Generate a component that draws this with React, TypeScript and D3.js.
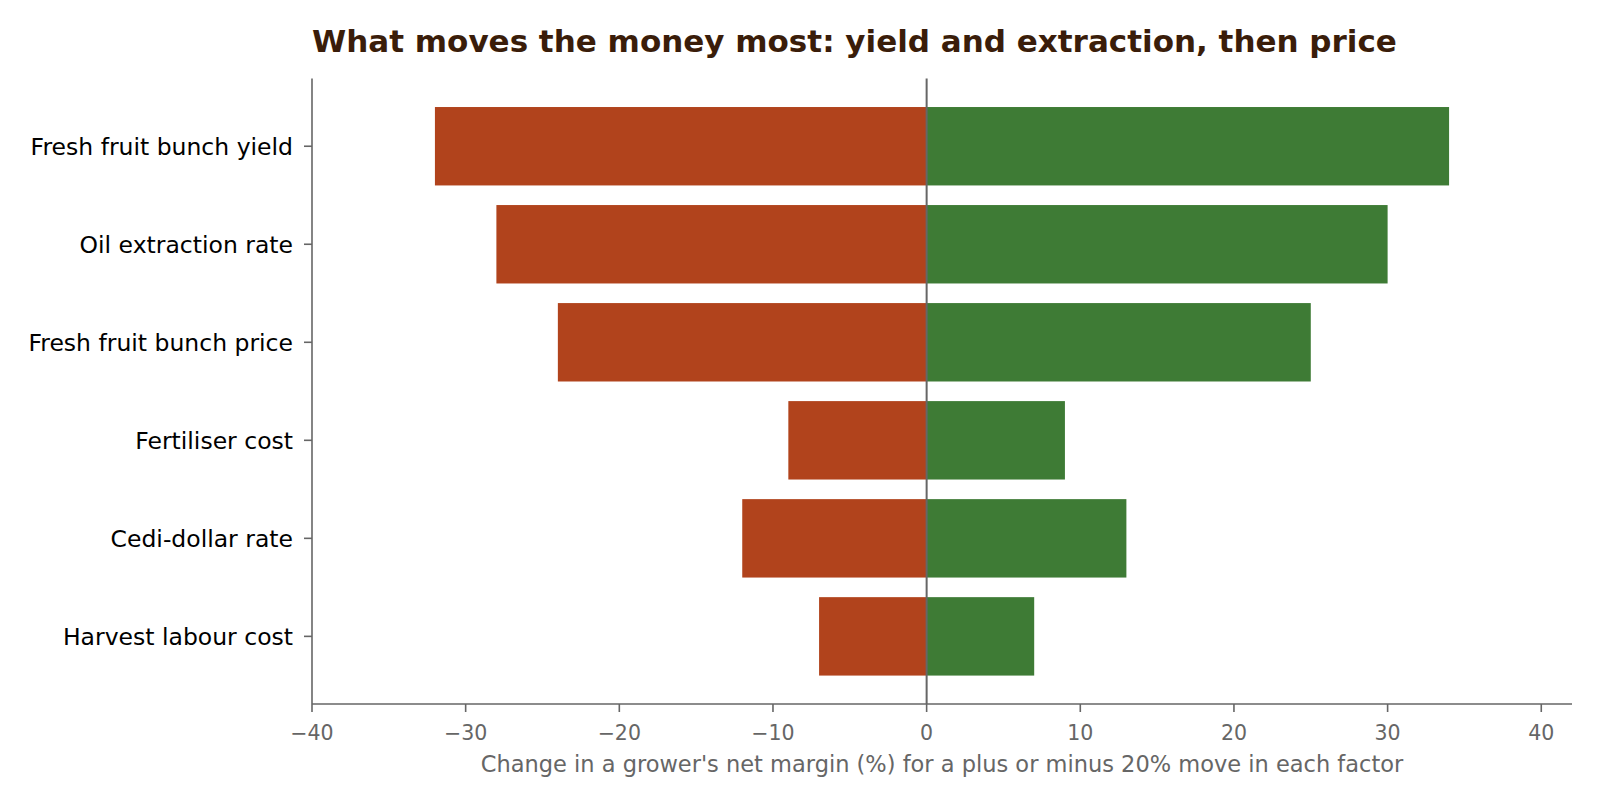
import React from "react";
import * as d3 from "d3";

const categories = [
  "Fresh fruit bunch yield",
  "Oil extraction rate",
  "Fresh fruit bunch price",
  "Fertiliser cost",
  "Cedi-dollar rate",
  "Harvest labour cost",
];
const downside = [-32, -28, -24, -9, -12, -7];
const upside = [34, 30, 25, 9, 13, 7];
const xTicks = [-40, -30, -20, -10, 0, 10, 20, 30, 40];

const W = 1600;
const H = 804;
const LEFT = 312;
const RIGHT = 1572;
const TOP = 78.6;
const BOTTOM = 704;
const FONT = "'DejaVu Sans', sans-serif";
const AXIS = "#666666";
const RED = "#b1431c";
const GREEN = "#3e7b35";

export default function App() {
  const x = d3.scaleLinear().domain([-40, 42]).range([LEFT, RIGHT]);
  const y = d3
    .scaleBand<string>()
    .domain(categories)
    .range([TOP, BOTTOM])
    .paddingInner(0.2)
    .paddingOuter(0.29);
  const bw = y.bandwidth();

  return (
    <svg
      width={W}
      height={H}
      style={{ position: "absolute", left: 0, top: 0, background: "#fff" }}
      fontFamily={FONT}
    >
      <rect x={0} y={0} width={W} height={H} fill="#fff" />
      <text x={LEFT} y={51.5} fontSize={31} fontWeight="bold" fill="#3a1d0a">
        What moves the money most: yield and extraction, then price
      </text>

      {categories.map((c, i) => (
        <g key={c}>
          <rect
            x={x(downside[i])}
            y={y(c)!}
            width={x(0) - x(downside[i])}
            height={bw}
            fill={RED}
          />
          <rect
            x={x(0)}
            y={y(c)!}
            width={x(upside[i]) - x(0)}
            height={bw}
            fill={GREEN}
          />
        </g>
      ))}

      <line x1={x(0)} x2={x(0)} y1={TOP} y2={BOTTOM} stroke={AXIS} strokeWidth={2} />

      {/* y axis */}
      <line x1={LEFT} x2={LEFT} y1={TOP} y2={BOTTOM} stroke={AXIS} strokeWidth={1.6} />
      {categories.map((c) => {
        const cy = y(c)! + bw / 2;
        return (
          <g key={"t" + c}>
            <line x1={LEFT - 8} x2={LEFT} y1={cy} y2={cy} stroke={AXIS} strokeWidth={1.6} />
            <text
              x={293}
              y={cy + 0.36 * 23.5}
              fontSize={23.5}
              textAnchor="end"
              fill="#000"
            >
              {c}
            </text>
          </g>
        );
      })}

      {/* x axis */}
      <line x1={LEFT} x2={RIGHT} y1={BOTTOM} y2={BOTTOM} stroke={AXIS} strokeWidth={1.6} />
      {xTicks.map((t) => (
        <g key={"x" + t}>
          <line x1={x(t)} x2={x(t)} y1={BOTTOM} y2={BOTTOM + 8} stroke={AXIS} strokeWidth={1.6} />
          <text x={x(t)} y={740} fontSize={20.5} textAnchor="middle" fill={AXIS}>
            {t < 0 ? "\u2212" + Math.abs(t) : String(t)}
          </text>
        </g>
      ))}
      <text x={(LEFT + RIGHT) / 2} y={772} fontSize={22.5} textAnchor="middle" fill={AXIS}>
        Change in a grower's net margin (%) for a plus or minus 20% move in each factor
      </text>
    </svg>
  );
}
